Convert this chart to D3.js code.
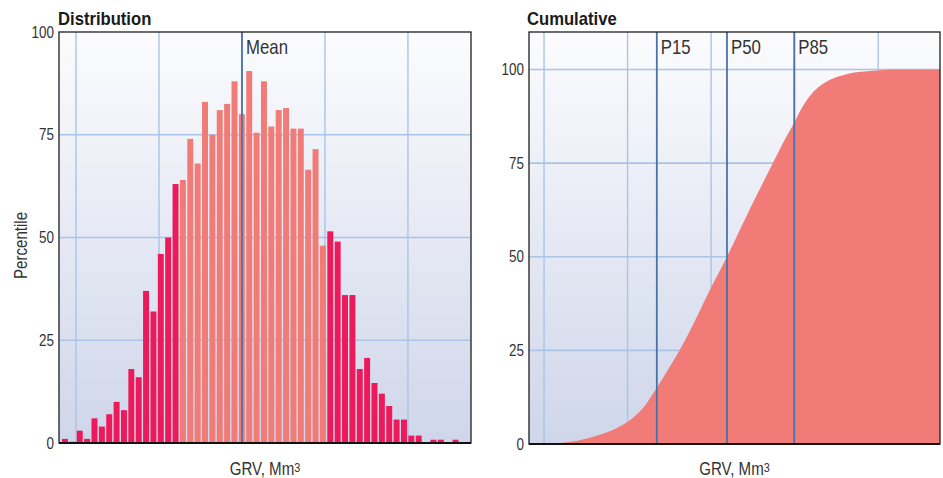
<!DOCTYPE html>
<html>
<head>
<meta charset="utf-8">
<script src="https://cdn.jsdelivr.net/npm/d3@7"></script>
<style>
  html, body { margin: 0; padding: 0; background: #ffffff; }
  svg { display: block; }
  text { font-family: "Liberation Sans", Arial, sans-serif; fill: #333; }
  .title { font-weight: bold; fill: #1a1a1a; }
</style>
</head>
<body>
<svg id="chart" width="943" height="478"></svg>
<script>
// Histogram of GRV outcomes: percentage height per bin
const binCounts = [
  1, 0.3, 3, 1, 6, 4, 7, 10, 8, 18,
  16, 37, 32, 46, 50, 63, 64, 74, 68, 83,
  75, 81, 82.5, 88, 80, 90.5, 75.5, 88, 77, 81,
  81.5, 76.5, 76.5, 66.5, 71.5, 48, 51.5, 49, 36, 36,
  18, 20.7, 14.6, 12, 9, 5.7, 5.7, 1.8, 1.8, 0.2,
  0.8, 0.8, 0.2, 0.8, 0.2
];
const binStart = 82.3;       // GRV at the left edge of the first bin
const binWidth = 8.88;       // GRV width of each bin
const shadedBins = [16, 35]; // bins lying in the P15–P85 band

// Cumulative distribution of GRV
const cumGRV = [82, 100, 120, 140, 163, 185, 203, 220, 235, 250, 263, 280, 299, 319, 347, 374, 390, 399, 408, 415, 425, 434, 446, 463, 490, 522, 574];
const cumPct = [0, 0, 0.3, 0.9, 2.2, 4.0, 6.4, 10, 15, 20.4, 25.3, 32.6, 41.3, 50, 63, 75, 82, 85.6, 89.5, 92, 94.6, 96.2, 97.6, 98.8, 99.6, 100, 100];

const meanGRV = 300;
const percentileNames = ["P15", "P50", "P85"];
const percentileGRV = [235, 319, 399.5];

const gridGRV = [100, 200, 300, 400, 500];
const yTicks = [0, 25, 50, 75, 100];

// condensed look: horizontal squeeze applied to every label
const SQ = 0.84;
const SQ_TITLE = 0.9;

const svg = d3.select("#chart");
const defs = svg.append("defs");

const grad = defs.append("linearGradient")
  .attr("id", "bg").attr("x1", 0).attr("y1", 0).attr("x2", 0).attr("y2", 1);
grad.append("stop").attr("offset", "0%").attr("stop-color", "#fcfcfe");
grad.append("stop").attr("offset", "100%").attr("stop-color", "#cfd6ea");

const gridColor = "#a9c4e6";
const markerColor = "#4b72a8";
const darkBar = "#ec1a5a";
const lightBar = "#f17b77";

// places a squeezed text label at (x, y)
function label(parent, x, y, txt, opts = {}) {
  const g = parent.append("g").attr("transform", `translate(${x},${y})${opts.rotate ? ` rotate(${opts.rotate})` : ""}`);
  const t = g.append("text")
    .attr("transform", `scale(${opts.sq || SQ},1)`)
    .attr("font-size", opts.size || 18)
    .attr("text-anchor", opts.anchor || "start")
    .text(txt);
  if (opts.cls) t.attr("class", opts.cls);
  return t;
}

function yAxis(parent, scale, x) {
  parent.append("g")
    .attr("transform", `translate(${x},0)`)
    .call(d3.axisLeft(scale).tickValues(yTicks).tickSize(0).tickPadding(6))
    .call(g => g.select(".domain").remove())
    .call(g => g.selectAll("text")
      .attr("font-size", 16).attr("font-family", null).attr("fill", "#333")
      .attr("transform", `scale(${SQ},1)`));
}

function xTitle(parent, cx) {
  const t = label(parent, cx, 475, "", { anchor: "middle", size: 18 });
  t.append("tspan").text("GRV, Mm");
  t.append("tspan").attr("font-size", 13).attr("dy", -3).text("3");
}

// ---------- Left panel: Distribution ----------
const L = { left: 59, right: 471, top: 32, bottom: 443 };
const xL = d3.scaleLinear().domain([79.5, 576]).range([L.left, L.right]);
const yL = d3.scaleLinear().domain([0, 100]).range([L.bottom, L.top]);

const gL = svg.append("g");
gL.append("rect")
  .attr("x", L.left).attr("y", L.top)
  .attr("width", L.right - L.left).attr("height", L.bottom - L.top)
  .attr("fill", "url(#bg)");

gL.selectAll(".vgrid").data(gridGRV).join("line")
  .attr("x1", d => xL(d)).attr("x2", d => xL(d))
  .attr("y1", L.top).attr("y2", L.bottom)
  .attr("stroke", gridColor).attr("stroke-width", 1.4);
gL.selectAll(".hgrid").data(yTicks.filter(d => d > 0 && d < 100)).join("line")
  .attr("x1", L.left).attr("x2", L.right)
  .attr("y1", d => yL(d)).attr("y2", d => yL(d))
  .attr("stroke", gridColor).attr("stroke-width", 1.6);

gL.selectAll(".bar").data(binCounts).join("rect")
  .attr("x", (d, i) => xL(binStart + i * binWidth) + 0.7)
  .attr("width", (d, i) => xL(binStart + (i + 1) * binWidth) - xL(binStart + i * binWidth) - 1.4)
  .attr("y", d => yL(d))
  .attr("height", d => yL(0) - yL(d))
  .attr("fill", (d, i) => (i >= shadedBins[0] && i <= shadedBins[1]) ? lightBar : darkBar);

gL.append("line")
  .attr("x1", xL(meanGRV)).attr("x2", xL(meanGRV))
  .attr("y1", L.top).attr("y2", L.bottom)
  .attr("stroke", markerColor).attr("stroke-width", 1.8);
label(gL, xL(meanGRV) + 4, 54, "Mean", { size: 20 });

gL.append("rect")
  .attr("x", L.left).attr("y", L.top)
  .attr("width", L.right - L.left).attr("height", L.bottom - L.top)
  .attr("fill", "none").attr("stroke", "#1e1e1e").attr("stroke-width", 1.3);
gL.append("line")
  .attr("x1", L.left).attr("x2", L.right).attr("y1", L.bottom).attr("y2", L.bottom)
  .attr("stroke", "#111").attr("stroke-width", 2);

yAxis(gL, yL, L.left);
label(gL, L.left - 1, 25, "Distribution", { size: 18.5, sq: SQ_TITLE, cls: "title" });
label(gL, 27, (L.top + L.bottom) / 2 + 8, "Percentile", { size: 18, anchor: "middle", rotate: -90 });
xTitle(gL, (L.left + L.right) / 2);

// ---------- Right panel: Cumulative ----------
const R = { left: 529, right: 940, top: 32, bottom: 444 };
const xR = d3.scaleLinear().domain([82, 574]).range([R.left, R.right]);
const yR = d3.scaleLinear().domain([0, 110]).range([R.bottom, R.top]);

const gR = svg.append("g");
gR.append("rect")
  .attr("x", R.left).attr("y", R.top)
  .attr("width", R.right - R.left).attr("height", R.bottom - R.top)
  .attr("fill", "url(#bg)");

gR.selectAll(".vgrid").data(gridGRV).join("line")
  .attr("x1", d => xR(d)).attr("x2", d => xR(d))
  .attr("y1", R.top).attr("y2", R.bottom)
  .attr("stroke", gridColor).attr("stroke-width", 1.4);
gR.selectAll(".hgrid").data(yTicks.filter(d => d > 0)).join("line")
  .attr("x1", R.left).attr("x2", R.right)
  .attr("y1", d => yR(d)).attr("y2", d => yR(d))
  .attr("stroke", gridColor).attr("stroke-width", 1.6);

const cumData = cumGRV.map((g, i) => ({ g, p: cumPct[i] }));
const area = d3.area()
  .x(d => xR(d.g))
  .y0(yR(0))
  .y1(d => yR(d.p))
  .curve(d3.curveMonotoneX);
gR.append("path").datum(cumData)
  .attr("d", area)
  .attr("fill", lightBar);

gR.selectAll(".pline").data(percentileGRV).join("line")
  .attr("x1", d => xR(d)).attr("x2", d => xR(d))
  .attr("y1", R.top).attr("y2", R.bottom)
  .attr("stroke", markerColor).attr("stroke-width", 1.8);
percentileGRV.forEach((d, i) => label(gR, xR(d) + 4, 54, percentileNames[i], { size: 20 }));

gR.append("rect")
  .attr("x", R.left).attr("y", R.top)
  .attr("width", R.right - R.left).attr("height", R.bottom - R.top)
  .attr("fill", "none").attr("stroke", "#1e1e1e").attr("stroke-width", 1.3);
gR.append("line")
  .attr("x1", R.left).attr("x2", R.right).attr("y1", R.bottom).attr("y2", R.bottom)
  .attr("stroke", "#111").attr("stroke-width", 2);

yAxis(gR, yR, R.left);
label(gR, R.left - 2, 25, "Cumulative", { size: 18.5, sq: SQ_TITLE, cls: "title" });
xTitle(gR, (R.left + R.right) / 2);
</script>
</body>
</html>
